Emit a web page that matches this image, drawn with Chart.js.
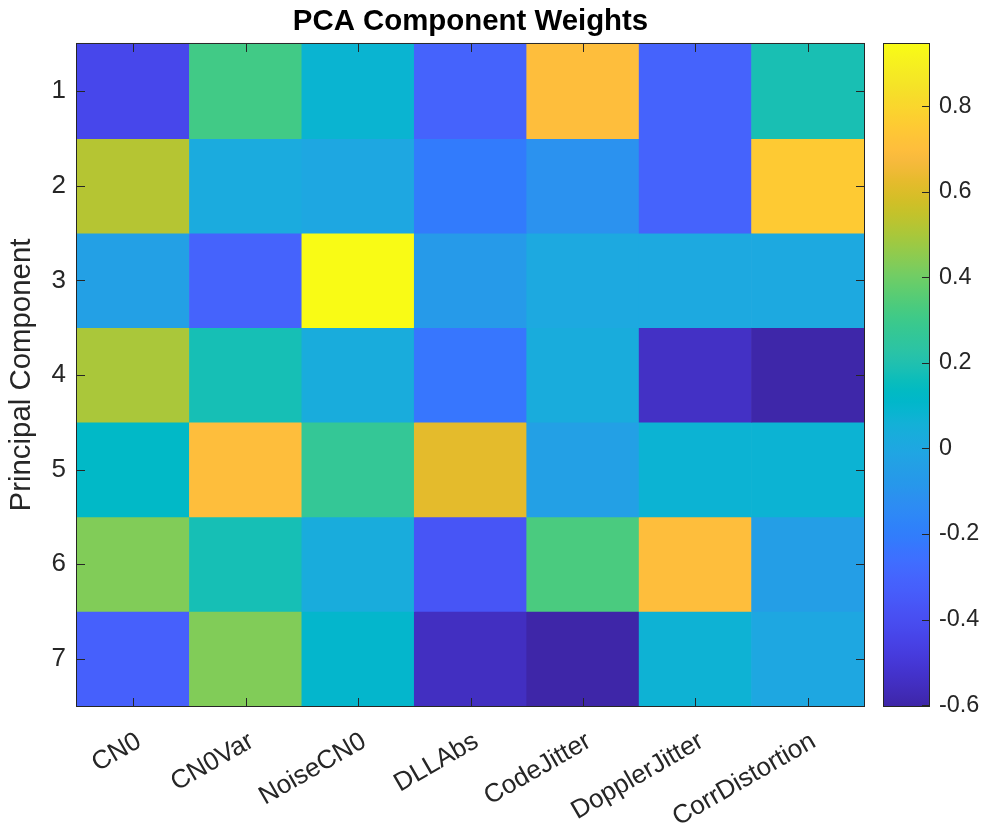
<!DOCTYPE html>
<html>
<head>
<meta charset="utf-8">
<title>PCA Component Weights</title>
<script src="https://cdn.jsdelivr.net/npm/chart.js@4.4.1/dist/chart.umd.min.js"></script>
<style>
  html, body { margin: 0; padding: 0; background: #ffffff; }
  #wrap { position: relative; width: 987px; height: 829px; }
  #wrap canvas { position: absolute; left: 0; top: 0; }
</style>
</head>
<body>
<div id="wrap">
  <canvas id="heat" width="987" height="829"></canvas>
  <canvas id="cbar" width="987" height="829"></canvas>
</div>
<script>
// ---- data -------------------------------------------------------------
const features = ['CN0', 'CN0Var', 'NoiseCN0', 'DLLAbs', 'CodeJitter', 'DopplerJitter', 'CorrDistortion'];
const componentIds = [1, 2, 3, 4, 5, 6, 7];

// weights of each principal component over the features (same order as `features`)
const PC1 = [-0.43,  0.31,  0.08, -0.31,  0.70, -0.31,  0.185];
const PC2 = [ 0.52,  0.02,  0.00, -0.21, -0.11, -0.31,  0.75];
const PC3 = [-0.04, -0.31,  0.945, -0.07,  0.01,  0.01,  0.01];
const PC4 = [ 0.50,  0.18,  0.03, -0.23,  0.03, -0.54, -0.60];
const PC5 = [ 0.12,  0.70,  0.27,  0.62, -0.04,  0.075, 0.075];
const PC6 = [ 0.43,  0.18,  0.03, -0.37,  0.33,  0.70, -0.05];
const PC7 = [-0.32,  0.43,  0.10, -0.55, -0.602, 0.07,  0.00];

const colorbarTicks = [-0.6, -0.4, -0.2, 0, 0.2, 0.4, 0.6, 0.8];

// ---- parula colour map (64 entries) -------------------------------------
const PARULA = [
  [0.2422,0.1504,0.6603],[0.2504,0.1650,0.7076],[0.2578,0.1818,0.7511],[0.2647,0.1978,0.7952],
  [0.2706,0.2147,0.8364],[0.2751,0.2342,0.8710],[0.2783,0.2559,0.8991],[0.2803,0.2782,0.9221],
  [0.2813,0.3006,0.9414],[0.2810,0.3228,0.9579],[0.2795,0.3447,0.9717],[0.2760,0.3667,0.9829],
  [0.2699,0.3892,0.9906],[0.2602,0.4123,0.9952],[0.2440,0.4358,0.9988],[0.2206,0.4603,0.9973],
  [0.1963,0.4847,0.9892],[0.1834,0.5074,0.9798],[0.1786,0.5289,0.9682],[0.1764,0.5499,0.9520],
  [0.1687,0.5703,0.9359],[0.1540,0.5902,0.9218],[0.1460,0.6091,0.9079],[0.1380,0.6276,0.8973],
  [0.1248,0.6459,0.8883],[0.1113,0.6635,0.8763],[0.0952,0.6798,0.8598],[0.0689,0.6948,0.8394],
  [0.0297,0.7082,0.8163],[0.0036,0.7195,0.7913],[0.0067,0.7297,0.7640],[0.0433,0.7394,0.7351],
  [0.0964,0.7489,0.7050],[0.1408,0.7584,0.6735],[0.1717,0.7677,0.6403],[0.1938,0.7769,0.6053],
  [0.2161,0.7843,0.5693],[0.2470,0.7918,0.5325],[0.2906,0.7973,0.4951],[0.3406,0.8008,0.4593],
  [0.3909,0.8029,0.4232],[0.4456,0.8024,0.3909],[0.5044,0.7993,0.3480],[0.5616,0.7942,0.3045],
  [0.6174,0.7876,0.2612],[0.6720,0.7793,0.2227],[0.7242,0.7698,0.1910],[0.7738,0.7598,0.1646],
  [0.8203,0.7498,0.1535],[0.8634,0.7406,0.1596],[0.9035,0.7330,0.1774],[0.9393,0.7288,0.2100],
  [0.9728,0.7298,0.2394],[0.9956,0.7434,0.2371],[0.9970,0.7659,0.2199],[0.9952,0.7893,0.2028],
  [0.9892,0.8136,0.1885],[0.9786,0.8386,0.1766],[0.9676,0.8639,0.1643],[0.9610,0.8890,0.1537],
  [0.9597,0.9135,0.1423],[0.9628,0.9373,0.1265],[0.9691,0.9606,0.1064],[0.9769,0.9839,0.0805]
];

function rgbCss(c) {
  return 'rgb(' + c.map(v => Math.round(v * 255)).join(',') + ')';
}
function parula(t) {
  t = Math.min(1, Math.max(0, t));
  const p = t * (PARULA.length - 1);
  const i = Math.min(PARULA.length - 2, Math.floor(p));
  const f = p - i;
  const a = PARULA[i], b = PARULA[i + 1];
  return rgbCss([0, 1, 2].map(k => a[k] + (b[k] - a[k]) * f));
}

// colour limits follow the data range
const components = [PC1, PC2, PC3, PC4, PC5, PC6, PC7];
const allWeights = components.flat();
const cmin = Math.min(...allWeights);
const cmax = Math.max(...allWeights);
const toUnit = v => (v - cmin) / (cmax - cmin);

// ---- shared styling -----------------------------------------------------
const FONT = "'Liberation Sans', Arial, Helvetica, sans-serif";
const AXIS_COLOR = '#262626';
Chart.defaults.font.family = FONT;

// axes frame with inward tick marks on all four sides
const axesFrame = {
  id: 'axesFrame',
  afterDatasetsDraw(chart) {
    const { ctx, chartArea: a, scales: { x, y } } = chart;
    const L = 8;
    ctx.save();
    ctx.strokeStyle = AXIS_COLOR;
    ctx.lineWidth = 1;
    ctx.beginPath();
    x.ticks.forEach((t, i) => {
      const px = Math.round(x.getPixelForTick(i)) + 0.5;
      ctx.moveTo(px, a.top); ctx.lineTo(px, a.top + L);
      ctx.moveTo(px, a.bottom); ctx.lineTo(px, a.bottom - L);
    });
    y.ticks.forEach(t => {
      const py = Math.round(y.getPixelForValue(t.value)) + 0.5;
      ctx.moveTo(a.left, py); ctx.lineTo(a.left + L, py);
      ctx.moveTo(a.right, py); ctx.lineTo(a.right - L, py);
    });
    ctx.stroke();
    ctx.strokeRect(a.left - 0.5, a.top - 0.5, a.width + 1, a.height + 1);
    ctx.restore();
  }
};

// ---- heat map: one floating-bar dataset per principal component ---------
const heatDatasets = components.map((row, r) => ({
  label: 'PC ' + componentIds[r],
  data: row.map(() => [componentIds[r] - 0.5, componentIds[r] + 0.5]),
  backgroundColor: row.map(v => parula(toUnit(v))),
  borderWidth: 0,
  barPercentage: 1,
  categoryPercentage: 1,
  grouped: false
}));

new Chart(document.getElementById('heat'), {
  type: 'bar',
  data: { labels: features, datasets: heatDatasets },
  options: {
    responsive: false,
    animation: false,
    events: [],
    layout: { padding: { left: 0, top: 0, right: 123, bottom: 0 } },
    plugins: {
      legend: { display: false },
      tooltip: { enabled: false },
      title: {
        display: true,
        text: 'PCA Component Weights',
        fullSize: false,
        color: '#000000',
        font: { size: 29.4, weight: 'bold', family: FONT },
        padding: { top: 4.5, bottom: 4.2 }
      }
    },
    scales: {
      x: {
        type: 'category',
        position: 'bottom',
        grid: { display: false, drawTicks: false },
        border: { display: false },
        afterFit: s => { s.height = 123; },
        ticks: {
          autoSkip: false,
          minRotation: 30,
          maxRotation: 30,
          padding: 20,
          labelOffset: 6,
          color: AXIS_COLOR,
          font: { size: 26, family: FONT }
        }
      },
      y: {
        type: 'linear',
        reverse: true,
        min: 0.5,
        max: 7.5,
        grid: { display: false, drawTicks: false },
        border: { display: false },
        afterFit: s => { s.width = 77; },
        afterBuildTicks: s => { s.ticks = componentIds.map(v => ({ value: v })); },
        ticks: {
          padding: 11,
          color: AXIS_COLOR,
          font: { size: 26, family: FONT },
          callback: v => String(v)
        },
        title: {
          display: true,
          text: 'Principal Component',
          color: AXIS_COLOR,
          font: { size: 29.4, family: FONT },
          padding: { top: 4.5, bottom: 0 }
        }
      }
    }
  },
  plugins: [axesFrame]
});

// ---- colour bar --------------------------------------------------------
const colorbarFrame = {
  id: 'colorbarFrame',
  afterDatasetsDraw(chart) {
    const { ctx, chartArea: a, scales: { y } } = chart;
    const L = 7;
    ctx.save();
    ctx.strokeStyle = AXIS_COLOR;
    ctx.lineWidth = 1;
    ctx.beginPath();
    y.ticks.forEach(t => {
      const py = Math.round(y.getPixelForValue(t.value)) + 0.5;
      ctx.moveTo(a.right, py); ctx.lineTo(a.right - L, py);
    });
    ctx.stroke();
    ctx.strokeRect(a.left - 0.5, a.top - 0.5, a.width + 1, a.height + 1);
    ctx.restore();
  }
};

new Chart(document.getElementById('cbar'), {
  type: 'bar',
  data: {
    labels: [''],
    datasets: [{
      data: [[cmin, cmax]],
      borderWidth: 0,
      barPercentage: 1,
      categoryPercentage: 1,
      backgroundColor(c) {
        const ch = c.chart;
        if (!ch.chartArea) return parula(0.5);
        const ys = ch.scales.y;
        const g = ch.ctx.createLinearGradient(0, ys.getPixelForValue(cmin), 0, ys.getPixelForValue(cmax));
        PARULA.forEach((rgb, i) => g.addColorStop(i / (PARULA.length - 1), rgbCss(rgb)));
        return g;
      }
    }]
  },
  options: {
    responsive: false,
    animation: false,
    events: [],
    layout: { padding: { left: 884, top: 44, right: 0, bottom: 123 } },
    plugins: { legend: { display: false }, tooltip: { enabled: false } },
    scales: {
      x: { display: false },
      y: {
        type: 'linear',
        position: 'right',
        min: cmin,
        max: cmax,
        grid: { display: false, drawTicks: false },
        border: { display: false },
        afterFit: s => { s.width = 58; },
        afterBuildTicks: s => { s.ticks = colorbarTicks.map(v => ({ value: v })); },
        ticks: {
          padding: 10,
          color: AXIS_COLOR,
          font: { size: 23.4, family: FONT },
          callback: v => String(Number(v.toFixed(1)))
        }
      }
    }
  },
  plugins: [colorbarFrame]
});
</script>
</body>
</html>
